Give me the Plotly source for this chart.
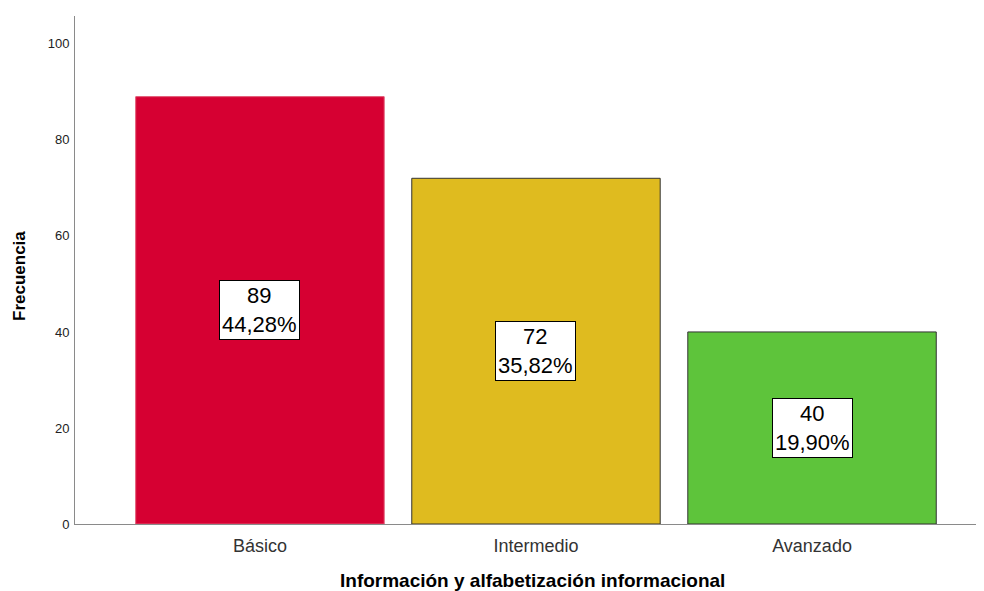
import plotly.graph_objects as go

categories = ["Básico", "Intermedio", "Avanzado"]
counts = [89, 72, 40]
percents = ["44,28%", "35,82%", "19,90%"]
colors = ["#d60032", "#dfbb1f", "#5ec43b"]
edge_colors = ["#e0506e", "#333333", "#333333"]
y_ticks = [0, 20, 40, 60, 80, 100]

FONT = "Liberation Sans, Arial, sans-serif"

# page body has an 8px margin; size the figure so the plot lands where the reference has it
W, H = 976, 583
ML, MR, MT, MB = 67, 0, 8, 67
PW = W - ML - MR
PH = H - MT - MB

fig = go.Figure()
fig.add_trace(go.Bar(
    x=list(range(len(categories))),
    y=counts,
    width=0.9,
    marker=dict(color=colors, line=dict(color=edge_colors, width=1)),
    hoverinfo="skip",
))

annotations = []
for i, (c, p) in enumerate(zip(counts, percents)):
    annotations.append(dict(
        x=i, y=c / 2, xref="x", yref="y",
        text=f"{c}<br>{p}", showarrow=False,
        font=dict(family=FONT, size=22, color="#000000"),
        bgcolor="#ffffff", bordercolor="#000000", borderwidth=1, borderpad=2,
        align="center", xanchor="center", yanchor="middle",
    ))

# y axis title at page x≈19, y≈276
annotations.append(dict(
    x=(19 - 8 - ML) / PW, y=1 - (276 - 8 - MT) / PH, xref="paper", yref="paper",
    text="<b>Frecuencia</b>", showarrow=False, textangle=-90,
    xanchor="center", yanchor="middle",
    font=dict(family=FONT, size=17, color="#000"),
))
# x axis title at page x≈532, y≈580
annotations.append(dict(
    x=(532 - 8 - ML) / PW, y=1 - (580 - 8 - MT) / PH, xref="paper", yref="paper",
    text="<b>Información y alfabetización informacional</b>", showarrow=False,
    xanchor="center", yanchor="middle",
    font=dict(family=FONT, size=19, color="#000"),
))

fig.update_layout(
    width=W, height=H,
    margin=dict(l=ML, r=MR, t=MT, b=MB, pad=0),
    paper_bgcolor="white", plot_bgcolor="white",
    showlegend=False,
    font=dict(family=FONT, color="#000"),
    annotations=annotations,
)

fig.update_xaxes(
    range=[-0.67, 2.623],
    tickvals=list(range(len(categories))), ticktext=categories,
    tickfont=dict(family=FONT, size=18, color="#333"),
    showline=True, linecolor="#8a8a8a", linewidth=1,
    showgrid=False, zeroline=False, ticks="", ticklabelstandoff=5,
)
fig.update_yaxes(
    range=[0, 105.8], tickvals=y_ticks,
    tickfont=dict(family=FONT, size=13, color="#222"),
    showline=True, linecolor="#8a8a8a", linewidth=1,
    showgrid=False, zeroline=False, ticks="", ticklabelstandoff=2,
)

fig.write_html("out.html", config={"displayModeBar": False})
